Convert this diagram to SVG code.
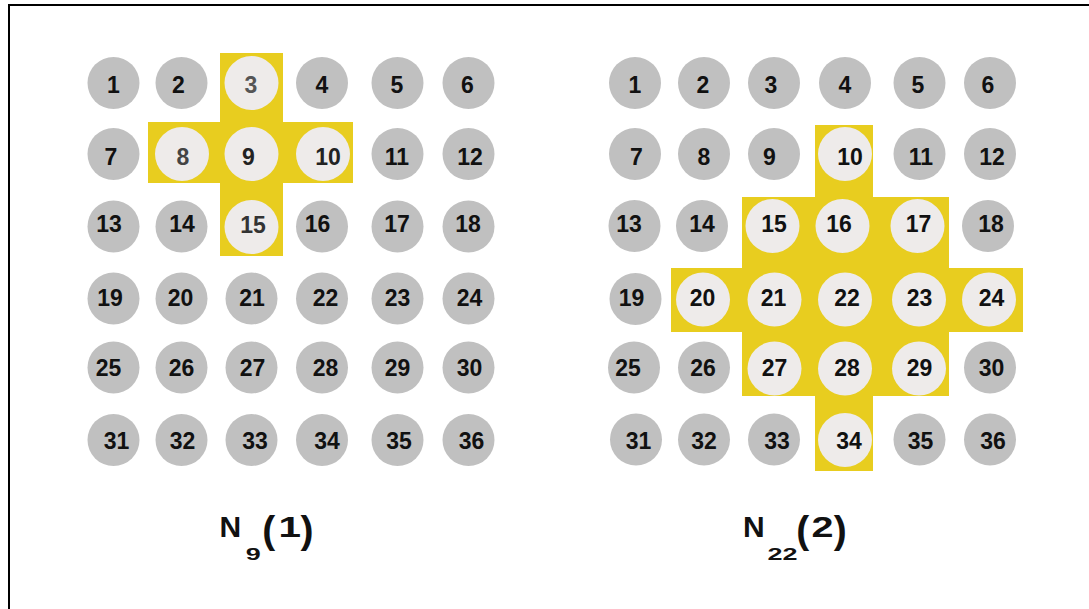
<svg xmlns="http://www.w3.org/2000/svg" width="1089" height="609" viewBox="0 0 1089 609">
<style>
.g{fill:#C0C0C0}
.h{fill:#EEEBEA}
.y{fill:#E8CD1F}
text{font-family:"Liberation Sans",Arial,sans-serif;font-weight:bold;fill:#111}
.n{font-size:23px;text-anchor:middle}
.lb{font-size:30px}
.pa{font-size:39px}
.sb{font-size:17px}
</style>
<rect width="1089" height="609" fill="#fff"/>
<path d="M9,609 V5 H1089" fill="none" stroke="#000" stroke-width="2"/>
<g id="highlight-left">
<rect class="y" x="220" y="53" width="63" height="203"/>
<rect class="y" x="148" y="122" width="205" height="61"/>
</g>
<g id="highlight-right">
<rect class="y" x="815" y="125" width="58" height="346"/>
<rect class="y" x="742" y="197" width="207" height="199"/>
<rect class="y" x="671" y="268" width="352" height="64"/>
</g>
<g id="connectors"/>
<g id="left-grid">
<g id="L1"><circle class="g" cx="113.5" cy="83" r="26"/><text class="n" x="113.5" y="93">1</text></g>
<g id="L2"><circle class="g" cx="181.5" cy="83" r="26"/><text class="n" x="178.5" y="93">2</text></g>
<g id="L3"><circle class="h" cx="251.5" cy="83" r="27"/><text class="n" x="251" y="93" style="fill:#555">3</text></g>
<g id="L4"><circle class="g" cx="322" cy="83" r="26"/><text class="n" x="322" y="93">4</text></g>
<g id="L5"><circle class="g" cx="397.5" cy="83" r="26"/><text class="n" x="397" y="93">5</text></g>
<g id="L6"><circle class="g" cx="468.5" cy="83" r="26"/><text class="n" x="467.5" y="93">6</text></g>
<g id="L7"><circle class="g" cx="113.5" cy="154" r="26"/><text class="n" x="111" y="165">7</text></g>
<g id="L8"><circle class="h" cx="182" cy="154" r="27"/><text class="n" x="183" y="165" style="fill:#444">8</text></g>
<g id="L9"><circle class="h" cx="251.5" cy="154" r="27"/><text class="n" x="248.5" y="165" style="fill:#222">9</text></g>
<g id="L10"><circle class="h" cx="323" cy="154" r="27"/><text class="n" x="328" y="165" style="fill:#222">10</text></g>
<g id="L11"><circle class="g" cx="397.5" cy="154" r="26"/><text class="n" x="397" y="165">11</text></g>
<g id="L12"><circle class="g" cx="468.5" cy="154" r="26"/><text class="n" x="470" y="165">12</text></g>
<g id="L13"><circle class="g" cx="113.5" cy="226.5" r="26"/><text class="n" x="109" y="232">13</text></g>
<g id="L14"><circle class="g" cx="181.5" cy="226.5" r="26"/><text class="n" x="182" y="232">14</text></g>
<g id="L15"><circle class="h" cx="251.5" cy="227" r="27"/><text class="n" x="253" y="233" style="fill:#333">15</text></g>
<g id="L16"><circle class="g" cx="322" cy="226.5" r="26"/><text class="n" x="317.5" y="232">16</text></g>
<g id="L17"><circle class="g" cx="397.5" cy="226.5" r="26"/><text class="n" x="397" y="232">17</text></g>
<g id="L18"><circle class="g" cx="468.5" cy="226.5" r="26"/><text class="n" x="468" y="232">18</text></g>
<g id="L19"><circle class="g" cx="113.5" cy="298.5" r="26"/><text class="n" x="110" y="306">19</text></g>
<g id="L20"><circle class="g" cx="181.5" cy="298.5" r="26"/><text class="n" x="180.5" y="306">20</text></g>
<g id="L21"><circle class="g" cx="251.5" cy="298.5" r="26"/><text class="n" x="252" y="306">21</text></g>
<g id="L22"><circle class="g" cx="322" cy="298.5" r="26"/><text class="n" x="325.5" y="306">22</text></g>
<g id="L23"><circle class="g" cx="397.5" cy="298.5" r="26"/><text class="n" x="397.5" y="306">23</text></g>
<g id="L24"><circle class="g" cx="468.5" cy="298.5" r="26"/><text class="n" x="469.5" y="306">24</text></g>
<g id="L25"><circle class="g" cx="113.5" cy="367.5" r="26"/><text class="n" x="108.5" y="376">25</text></g>
<g id="L26"><circle class="g" cx="181.5" cy="367.5" r="26"/><text class="n" x="181.5" y="376">26</text></g>
<g id="L27"><circle class="g" cx="251.5" cy="367.5" r="26"/><text class="n" x="252.5" y="376">27</text></g>
<g id="L28"><circle class="g" cx="322" cy="367.5" r="26"/><text class="n" x="325.5" y="376">28</text></g>
<g id="L29"><circle class="g" cx="397.5" cy="367.5" r="26"/><text class="n" x="397.5" y="376">29</text></g>
<g id="L30"><circle class="g" cx="468.5" cy="367.5" r="26"/><text class="n" x="469.5" y="376">30</text></g>
<g id="L31"><circle class="g" cx="113.5" cy="440" r="26"/><text class="n" x="116.5" y="449">31</text></g>
<g id="L32"><circle class="g" cx="181.5" cy="440" r="26"/><text class="n" x="182.5" y="449">32</text></g>
<g id="L33"><circle class="g" cx="251.5" cy="440" r="26"/><text class="n" x="255" y="449">33</text></g>
<g id="L34"><circle class="g" cx="322" cy="440" r="26"/><text class="n" x="327" y="449">34</text></g>
<g id="L35"><circle class="g" cx="397.5" cy="440" r="26"/><text class="n" x="399" y="449">35</text></g>
<g id="L36"><circle class="g" cx="468.5" cy="440" r="26"/><text class="n" x="471.5" y="449">36</text></g>
</g>
<g id="right-grid">
<g id="R1"><circle class="g" cx="635" cy="83" r="26"/><text class="n" x="635" y="93">1</text></g>
<g id="R2"><circle class="g" cx="704" cy="83" r="26"/><text class="n" x="703" y="93">2</text></g>
<g id="R3"><circle class="g" cx="774" cy="83" r="26"/><text class="n" x="771" y="93">3</text></g>
<g id="R4"><circle class="g" cx="845" cy="83" r="26"/><text class="n" x="845" y="93">4</text></g>
<g id="R5"><circle class="g" cx="919.5" cy="83" r="26"/><text class="n" x="918" y="93">5</text></g>
<g id="R6"><circle class="g" cx="990" cy="83" r="26"/><text class="n" x="988" y="93">6</text></g>
<g id="R7"><circle class="g" cx="635" cy="154" r="26"/><text class="n" x="636.5" y="165">7</text></g>
<g id="R8"><circle class="g" cx="704" cy="154" r="26"/><text class="n" x="704" y="165">8</text></g>
<g id="R9"><circle class="g" cx="774" cy="154" r="26"/><text class="n" x="769.5" y="165">9</text></g>
<g id="R10"><circle class="h" cx="845" cy="154" r="27"/><text class="n" x="850" y="165">10</text></g>
<g id="R11"><circle class="g" cx="919.5" cy="154" r="26"/><text class="n" x="921" y="165">11</text></g>
<g id="R12"><circle class="g" cx="990" cy="154" r="26"/><text class="n" x="992" y="165">12</text></g>
<g id="R13"><circle class="g" cx="634.5" cy="226" r="26"/><text class="n" x="629" y="232">13</text></g>
<g id="R14"><circle class="g" cx="702" cy="226" r="26"/><text class="n" x="702" y="232">14</text></g>
<g id="R15"><circle class="h" cx="772.5" cy="226" r="27"/><text class="n" x="774" y="232">15</text></g>
<g id="R16"><circle class="h" cx="842.5" cy="226" r="27"/><text class="n" x="839" y="232">16</text></g>
<g id="R17"><circle class="h" cx="917.5" cy="226" r="27"/><text class="n" x="918.5" y="232">17</text></g>
<g id="R18"><circle class="g" cx="988" cy="226" r="26"/><text class="n" x="991" y="232">18</text></g>
<g id="R19"><circle class="g" cx="635.5" cy="299" r="26"/><text class="n" x="631.5" y="306">19</text></g>
<g id="R20"><circle class="h" cx="703" cy="299.5" r="27"/><text class="n" x="702.5" y="306">20</text></g>
<g id="R21"><circle class="h" cx="774.5" cy="299.5" r="27"/><text class="n" x="773.5" y="306">21</text></g>
<g id="R22"><circle class="h" cx="845" cy="299.5" r="27"/><text class="n" x="847" y="306">22</text></g>
<g id="R23"><circle class="h" cx="919" cy="299.5" r="27"/><text class="n" x="919.5" y="306">23</text></g>
<g id="R24"><circle class="h" cx="989" cy="299.5" r="27"/><text class="n" x="991.5" y="306">24</text></g>
<g id="R25"><circle class="g" cx="634" cy="367.5" r="26"/><text class="n" x="628" y="376">25</text></g>
<g id="R26"><circle class="g" cx="704" cy="367.5" r="26"/><text class="n" x="703" y="376">26</text></g>
<g id="R27"><circle class="h" cx="774.5" cy="368.5" r="27"/><text class="n" x="774.5" y="376">27</text></g>
<g id="R28"><circle class="h" cx="845" cy="368.5" r="27"/><text class="n" x="847" y="376">28</text></g>
<g id="R29"><circle class="h" cx="919" cy="368.5" r="27"/><text class="n" x="919.5" y="376">29</text></g>
<g id="R30"><circle class="g" cx="990" cy="367.5" r="26"/><text class="n" x="991.5" y="376">30</text></g>
<g id="R31"><circle class="g" cx="636" cy="439.5" r="26"/><text class="n" x="638.5" y="449">31</text></g>
<g id="R32"><circle class="g" cx="704" cy="439.5" r="26"/><text class="n" x="704" y="449">32</text></g>
<g id="R33"><circle class="g" cx="774" cy="439.5" r="26"/><text class="n" x="777" y="449">33</text></g>
<g id="R34"><circle class="h" cx="845" cy="440" r="27"/><text class="n" x="849" y="449">34</text></g>
<g id="R35"><circle class="g" cx="919.5" cy="439.5" r="26"/><text class="n" x="920.5" y="449">35</text></g>
<g id="R36"><circle class="g" cx="990" cy="439.5" r="26"/><text class="n" x="993" y="449">36</text></g>
</g>
<g id="label-left">
<text class="lb" x="219.5" y="537">N</text>
<text class="sb" x="245.7" y="560" textLength="15" lengthAdjust="spacingAndGlyphs">9</text>
<text class="pa" x="262.3" y="543.4">(</text>
<text class="lb" x="278.5" y="537" textLength="22.5" lengthAdjust="spacingAndGlyphs">1</text>
<text class="pa" x="300.5" y="543.4">)</text>
</g>
<g id="label-right">
<text class="lb" x="743" y="537">N</text>
<text class="sb" x="767.5" y="560" textLength="30" lengthAdjust="spacingAndGlyphs">22</text>
<text class="pa" x="796.3" y="543.4">(</text>
<text class="lb" x="811.5" y="537" textLength="22" lengthAdjust="spacingAndGlyphs">2</text>
<text class="pa" x="833.8" y="543.4">)</text>
</g>
</svg>
